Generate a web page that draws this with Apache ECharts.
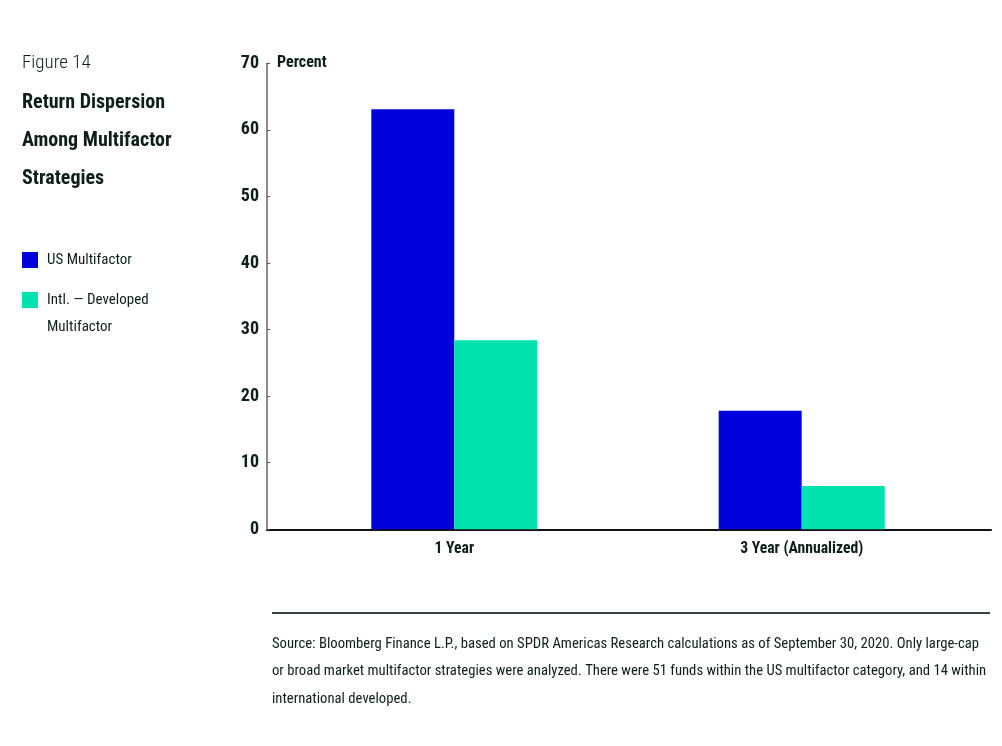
<!DOCTYPE html>
<html lang="en">
<head>
    <meta charset="UTF-8">
    <title>Figure 14</title>
    <script src="https://cdn.jsdelivr.net/npm/echarts@6/dist/echarts.min.js"></script>
    <style>
        html, body { margin: 0; padding: 0; background: #fff; }
    </style>
</head>
<body>

<div id="main" style="width: 1002px;height:746px;"></div>

<script type="text/javascript">
    // data
    var categories = ['1 Year', '3 Year (Annualized)'];
    var usMultifactor = [63.1, 17.8];
    var intlDeveloped = [28.4, 6.5];
    var seriesNames = ['US Multifactor', 'Intl. — Developed Multifactor'];
    var yMin = 0, yMax = 70, yStep = 10;

    var FONT = "'Roboto Condensed', 'DejaVu Sans Condensed', sans-serif";
    var INK = '#0d1f17';
    var BLUE = '#0000dc';
    var TEAL = '#00e3ae';

    var myChart = echarts.init(document.getElementById('main'));

    myChart.setOption({
        animation: false,
        textStyle: { fontFamily: FONT, color: INK },
        title: [{
            text: 'Figure 14',
            left: 22,
            top: 51,
            padding: 0,
            textStyle: { fontFamily: FONT, fontSize: 19, fontWeight: 300, lineHeight: 24, color: INK }
        }, {
            text: 'Return Dispersion\nAmong Multifactor\nStrategies',
            left: 22,
            top: 84,
            padding: 0,
            textStyle: { fontFamily: FONT, fontSize: 20, fontWeight: 'bold', lineHeight: 38, color: INK }
        }, {
            text: 'Source: Bloomberg Finance L.P., based on SPDR Americas Research calculations as of September 30, 2020. Only large-cap\n' +
                'or broad market multifactor strategies were analyzed. There were 51 funds within the US multifactor category, and 14 within\n' +
                'international developed.',
            left: 272,
            top: 630.5,
            padding: 0,
            textStyle: { fontFamily: FONT, fontSize: 14.7, fontWeight: 'normal', lineHeight: 27.5, color: INK }
        }],
        legend: [{
            data: [seriesNames[0]],
            left: 22,
            top: 252,
            padding: 0,
            icon: 'rect',
            itemWidth: 16,
            itemHeight: 16,
            selectedMode: false,
            textStyle: { fontFamily: FONT, fontSize: 15, color: INK, padding: [0, 0, 0, 4] }
        }, {
            data: [seriesNames[1]],
            left: 22,
            top: 259.5,
            padding: 0,
            icon: 'rect',
            itemWidth: 16,
            itemHeight: 16,
            selectedMode: false,
            formatter: function (name) {
                // empty first line keeps the first text line level with the swatch
                return '\n' + name.replace(' Multifactor', '\nMultifactor');
            },
            textStyle: { fontFamily: FONT, fontSize: 15, color: INK, lineHeight: 27, padding: [0, 0, 0, 4] }
        }],
        graphic: [{
            type: 'line',
            shape: { x1: 272, y1: 613, x2: 990, y2: 613 },
            style: { stroke: '#3a3f3c', lineWidth: 2 }
        }],
        grid: [{
            // bar area
            left: 280.6,
            right: 26.6,
            top: 63.3,
            bottom: 216.7
        }, {
            // axis frame
            left: 267,
            right: 11,
            top: 63.3,
            bottom: 216.7
        }],
        xAxis: [{
            type: 'category',
            gridIndex: 0,
            data: categories,
            axisLine: { show: false },
            axisTick: { show: false },
            axisLabel: {
                margin: 12,
                fontFamily: FONT,
                fontSize: 15.7,
                fontWeight: 'bold',
                color: INK
            },
            splitLine: { show: false }
        }, {
            type: 'value',
            gridIndex: 1,
            min: 0,
            max: 1,
            axisLine: { show: true, lineStyle: { color: '#111', width: 2 } },
            axisTick: { show: false },
            axisLabel: { show: false },
            splitLine: { show: false }
        }],
        yAxis: [{
            type: 'value',
            gridIndex: 0,
            min: yMin,
            max: yMax,
            interval: yStep,
            show: false
        }, {
            type: 'value',
            gridIndex: 1,
            min: yMin,
            max: yMax,
            interval: yStep,
            name: 'Percent',
            nameLocation: 'end',
            nameGap: 0,
            nameTextStyle: {
                fontFamily: FONT,
                fontSize: 16,
                fontWeight: 'bold',
                color: INK,
                align: 'left',
                verticalAlign: 'middle',
                padding: [0, 0, 0, 10]
            },
            axisLine: { show: true, lineStyle: { color: '#666', width: 1.5 } },
            axisTick: { show: true, inside: true, length: 3, lineStyle: { color: '#555' } },
            axisLabel: {
                margin: 8,
                fontFamily: FONT,
                fontSize: 18,
                fontWeight: 'bold',
                color: INK
            },
            splitLine: { show: false }
        }],
        series: [{
            name: seriesNames[0],
            type: 'bar',
            xAxisIndex: 0,
            yAxisIndex: 0,
            barWidth: 83,
            barGap: '0%',
            itemStyle: { color: BLUE },
            data: usMultifactor
        }, {
            name: seriesNames[1],
            type: 'bar',
            xAxisIndex: 0,
            yAxisIndex: 0,
            barWidth: 83,
            barGap: '0%',
            itemStyle: { color: TEAL },
            data: intlDeveloped
        }]
    });
</script>

</body>
</html>
